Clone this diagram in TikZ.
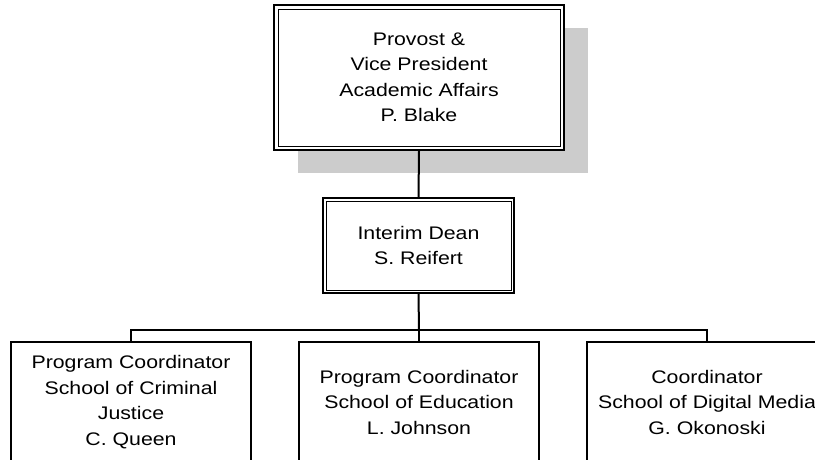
\documentclass[tikz,border=0pt]{standalone}
\usepackage{fontspec}
\setmainfont{Liberation Sans}[FakeStretch=1.17]
\usetikzlibrary{shadows}
\definecolor{shgray}{RGB}{204,204,204}
\begin{document}
\begin{tikzpicture}[x=1pt,y=-1pt,
  txt/.style={font=\fontsize{18.2}{25.5}\selectfont, align=center, inner sep=0pt},
  outerbox/.style={draw, line width=2pt, fill=white, txt},
  leafbox/.style={draw, line width=2pt, fill=white, txt, minimum width=240pt, minimum height=120pt},
  inner/.style={line width=0.9pt},
  conn/.style={line width=2pt}]
\useasboundingbox (0,0) rectangle (815,460);
% top box with shadow
\node[outerbox, minimum width=290pt, minimum height=145pt,
      drop shadow={shadow xshift=24pt, shadow yshift=-23pt, fill=shgray, opacity=1}]
  (top) at (419,77.5) {Provost \&\\Vice President\\Academic Affairs\\P. Blake};
\draw[inner] ([xshift=5pt,yshift=-5pt]top.north west) rectangle ([xshift=-5pt,yshift=5pt]top.south east);
% dean
\node[outerbox, minimum width=191pt, minimum height=95pt] (dean) at (418.5,245.5) {Interim Dean\\S. Reifert};
\draw[inner] ([xshift=4pt,yshift=-4pt]dean.north west) rectangle ([xshift=-4pt,yshift=4pt]dean.south east);
% leaves
\node[leafbox] (cj) at (131,402) {Program Coordinator\\School of Criminal\\Justice\\C. Queen};
\node[leafbox] (ed) at (419,402) {Program Coordinator\\School of Education\\L. Johnson};
\node[leafbox] (dm) at (707,402) {Coordinator\\School of Digital Media\\G. Okonoski};
% connectors
\coordinate (bus) at (419,330);
\draw[conn] (top.south) -- (dean.north);
\draw[conn] (dean.south) -- (bus);
\draw[conn] (cj.north) |- (bus) -| (dm.north);
\draw[conn] (bus) -- (ed.north);
\end{tikzpicture}
\end{document}
